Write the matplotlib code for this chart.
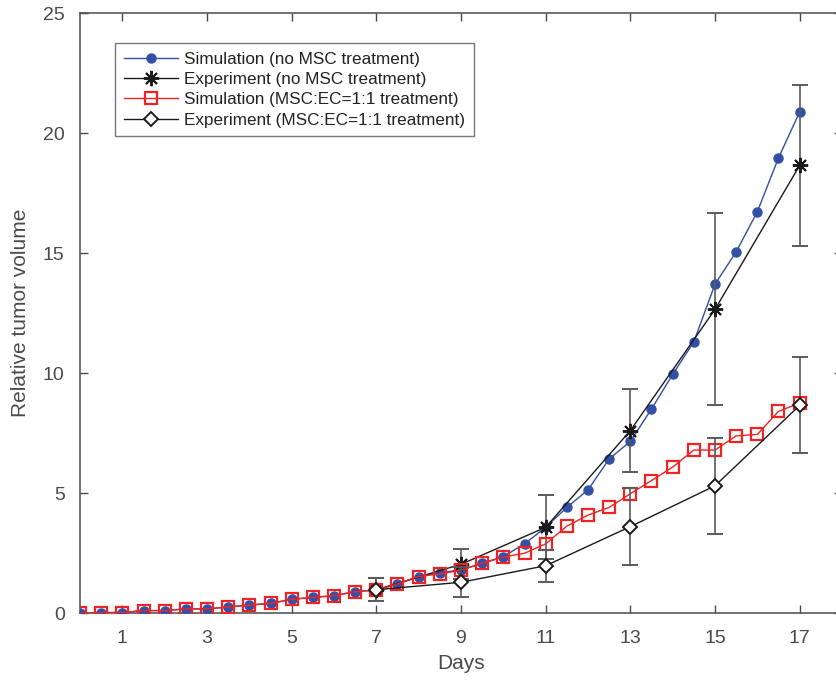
import numpy as np
import matplotlib
matplotlib.use("Agg")
import matplotlib.pyplot as plt

plt.rcParams['font.family'] = ['Liberation Sans', 'DejaVu Sans']

# simulation time points (days)
t_sim = [0, 0.5, 1, 1.5, 2, 2.5, 3, 3.5, 4, 4.5, 5, 5.5, 6, 6.5, 7, 7.5, 8, 8.5,
         9, 9.5, 10, 10.5, 11, 11.5, 12, 12.5, 13, 13.5, 14, 14.5, 15, 15.5,
         16, 16.5, 17]
sim_no_msc = [0.0, 0.02, 0.02, 0.1, 0.1, 0.17, 0.17, 0.25, 0.33, 0.4, 0.57, 0.65,
              0.72, 0.89, 0.96, 1.2, 1.52, 1.68, 1.8, 2.07, 2.35, 2.88, 3.57, 4.4,
              5.13, 6.42, 7.15, 8.5, 9.94, 11.3, 13.7, 15.05, 16.72, 18.96, 20.88]
sim_msc = [0.0, 0.02, 0.02, 0.1, 0.1, 0.17, 0.17, 0.25, 0.33, 0.4, 0.57, 0.65,
           0.72, 0.89, 0.96, 1.22, 1.52, 1.63, 1.78, 2.07, 2.33, 2.49, 2.88, 3.62,
           4.08, 4.4, 4.97, 5.52, 6.08, 6.79, 6.79, 7.38, 7.44, 8.4, 8.75]

# experiment
t_exp = [7, 9, 11, 13, 15, 17]
exp_no_msc = [0.97, 2.03, 3.57, 7.6, 12.65, 18.65]
err_no_msc = [0.47, 0.63, 1.34, 1.72, 4.0, 3.35]
exp_msc = [0.97, 1.28, 1.97, 3.6, 5.3, 8.65]
err_msc = [0.47, 0.63, 0.67, 1.62, 2.0, 2.0]

blue = '#3150a6'
red = '#ee2424'
axcol = '#4a4a4a'
ecol = '#5a5a5a'

fig = plt.figure(figsize=(8.36, 6.8), dpi=100)
ax = fig.add_axes([80 / 836, 67 / 680, 762 / 836, 600 / 680])

l1, = ax.plot(t_sim, sim_no_msc, '-o', color=blue, lw=1, ms=6.5, mfc=blue, mec=blue,
              zorder=3)
eb1 = ax.errorbar(t_exp, exp_no_msc, yerr=err_no_msc, color='#1a1a1a', lw=1,
                  marker=(8, 2, 0), ms=11, mew=1.4, ecolor=ecol, elinewidth=1.2,
                  capsize=6, capthick=1.2, zorder=4)
l2, = ax.plot(t_sim, sim_msc, '-s', color=red, lw=1, ms=8.5, mfc='none', mec=red,
              mew=1.6, zorder=5)
eb2 = ax.errorbar(t_exp, exp_msc, yerr=err_msc, color='#1a1a1a', lw=1,
                  marker='D', ms=7.5, mfc='white', mec='#1a1a1a', mew=1.4,
                  ecolor=ecol, elinewidth=1.2, capsize=6, capthick=1.2, zorder=6)

ax.set_xlim(0, 18)
ax.set_ylim(0, 25)
ax.set_xticks([1, 3, 5, 7, 9, 11, 13, 15, 17])
ax.set_yticks([0, 5, 10, 15, 20, 25])
ax.tick_params(direction='in', length=6, width=1, colors=axcol, labelsize=14,
               top=True, right=True)
ax.tick_params(axis='x', pad=12)
ax.tick_params(axis='y', pad=11)
for s in ax.spines.values():
    s.set_color(axcol)
    s.set_linewidth(1.1)
ax.set_xlabel('Days', fontsize=15, color=axcol, labelpad=5)
ax.set_ylabel('Relative tumor volume', fontsize=15, color=axcol, labelpad=9)

labels = ['Simulation (no MSC treatment)', 'Experiment (no MSC treatment)',
          'Simulation (MSC:EC=1:1 treatment)', 'Experiment (MSC:EC=1:1 treatment)']
leg = ax.legend([l1, eb1[0], l2, eb2[0]], labels,
                loc='upper left', bbox_to_anchor=(0.046, 0.95), borderaxespad=0,
                fontsize=12.3, handlelength=3.2, labelspacing=0.32,
                handletextpad=0.35, borderpad=0.5, fancybox=False,
                framealpha=1, edgecolor='#777777')
leg.get_frame().set_linewidth(1)
for txt in leg.get_texts():
    txt.set_color('#222222')

fig.savefig('out.png', dpi=100)
